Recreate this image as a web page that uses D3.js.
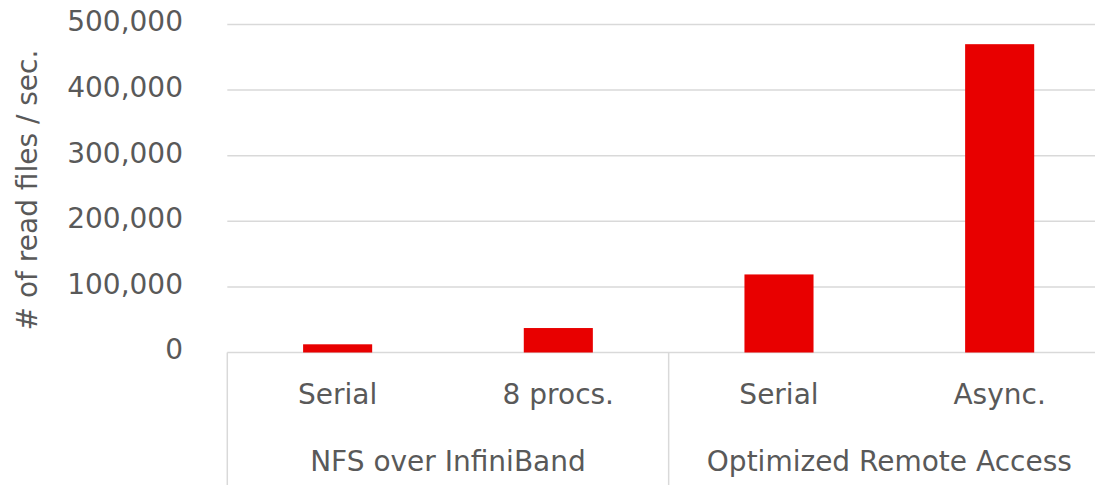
<!DOCTYPE html>
<html>
<head>
<meta charset="utf-8">
<script src="https://cdn.jsdelivr.net/npm/d3@7"></script>
<style>
  body { margin: 0; background: #fff; }
  text { font-family: "DejaVu Sans", Verdana, sans-serif; fill: #595959; }
</style>
</head>
<body>
<div id="chart"></div>
<script>
// data
const categories = ["Serial", "8 procs.", "Serial", "Async."];
const groups = ["NFS over InfiniBand", "NFS over InfiniBand", "Optimized Remote Access", "Optimized Remote Access"];
const values = [12500, 37300, 119000, 470000];
const yTicks = [0, 100000, 200000, 300000, 400000, 500000];

const width = 1095, height = 485;
const plotLeft = 227.3, plotRight = 1110, plotTop = 24.5, plotBottom = 352.5;

const svg = d3.select("#chart")
    .append("svg")
    .attr("width", width)
    .attr("height", height);

const ids = categories.map((c, i) => i);

const x = d3.scaleBand()
    .domain(ids)
    .range([plotLeft, plotRight])
    .paddingInner(0.687)
    .paddingOuter(0.3435);

const y = d3.scaleLinear()
    .domain([0, 500000])
    .range([plotBottom, plotTop]);

const fmt = d3.format(",");

/**
 * gridlines
 */
svg.append("g")
    .selectAll("line")
    .data(yTicks)
    .join("line")
        .attr("x1", plotLeft)
        .attr("x2", plotRight)
        .attr("y1", d => y(d))
        .attr("y2", d => y(d))
        .attr("stroke", "#d9d9d9")
        .attr("stroke-width", 1.5);

// y tick labels
svg.append("g")
    .selectAll("text")
    .data(yTicks)
    .join("text")
        .attr("x", 183)
        .attr("y", d => y(d) - 3)
        .attr("dy", "0.35em")
        .attr("text-anchor", "end")
        .attr("font-size", 28)
        .text(d => fmt(d));

// y axis title
svg.append("text")
    .attr("transform", "translate(37,190) rotate(-90)")
    .attr("text-anchor", "middle")
    .attr("font-size", 28)
    .text("# of read files / sec.");

/**
 * bars
 */
svg.append("g")
    .selectAll("rect")
    .data(ids)
    .join("rect")
        .attr("x", d => x(d))
        .attr("width", x.bandwidth())
        .attr("y", d => y(values[d]))
        .attr("height", d => y(0) - y(values[d]))
        .attr("fill", "#e80000");

// category labels
svg.append("g")
    .selectAll("text")
    .data(ids)
    .join("text")
        .attr("x", d => x(d) + x.bandwidth() / 2)
        .attr("y", 394)
        .attr("dy", "0.35em")
        .attr("text-anchor", "middle")
        .attr("font-size", 28)
        .text(d => categories[d]);

// group labels and separators
const groupNames = Array.from(new Set(groups));
const step = x.step();
const groupSpans = groupNames.map(g => {
    const idx = ids.filter(i => groups[i] === g);
    const x0 = plotLeft + step * idx[0];
    const x1 = plotLeft + step * (idx[idx.length - 1] + 1);
    return {name: g, x0, x1};
});

svg.append("g")
    .selectAll("line")
    .data([plotLeft, ...groupSpans.map(s => s.x1)])
    .join("line")
        .attr("x1", d => d)
        .attr("x2", d => d)
        .attr("y1", plotBottom)
        .attr("y2", height)
        .attr("stroke", "#d9d9d9")
        .attr("stroke-width", 1.5);

svg.append("g")
    .selectAll("text")
    .data(groupSpans)
    .join("text")
        .attr("x", d => (d.x0 + d.x1) / 2)
        .attr("y", 461)
        .attr("dy", "0.35em")
        .attr("text-anchor", "middle")
        .attr("font-size", 28)
        .text(d => d.name);
</script>
</body>
</html>
